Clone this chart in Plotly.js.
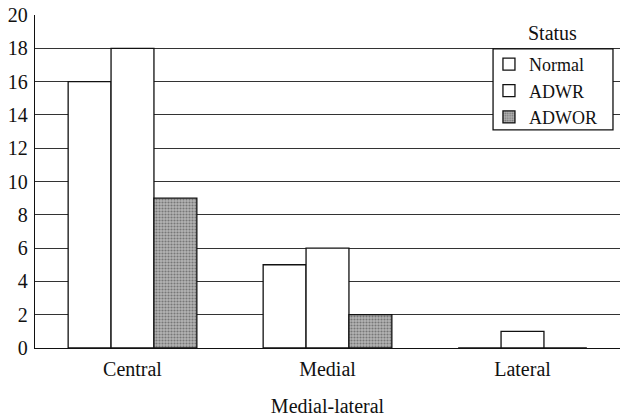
<!DOCTYPE html>
<html>
<head>
<meta charset="utf-8">
<script src="https://cdn.plot.ly/plotly-3.0.1.min.js"></script>
<style>html,body{margin:0;padding:0;background:#fff;}#chart{width:620px;height:419px;}</style>
</head>
<body>
<div id="chart"></div>
<script>
const categories = ["Central", "Medial", "Lateral"];
const normalValues = [16, 5, 0];
const adwrValues = [18, 6, 1];
const adworValues = [9, 2, 0];
const yTicks = [0, 2, 4, 6, 8, 10, 12, 14, 16, 18, 20];

const font = {family: "Liberation Serif", color: "#111", size: 20};
const legendFont = {family: "Liberation Serif", color: "#111", size: 18};
const line = {color: "#111", width: 1.3};

const traces = [
  {type: "bar", name: "Normal", x: categories, y: normalValues,
   marker: {color: "#ffffff", line: line}},
  {type: "bar", name: "ADWR", x: categories, y: adwrValues,
   marker: {color: "#ffffff", line: line}},
  {type: "bar", name: "ADWOR", x: categories, y: adworValues,
   marker: {color: "#a6a6a6", line: line,
            pattern: {shape: ".", fgcolor: "#777", bgcolor: "#b4b4b4", size: 3, solidity: 0.4}}}
];

const layout = {
  width: 620, height: 419,
  margin: {l: 35, r: 0, t: 15, b: 71},
  paper_bgcolor: "#fff", plot_bgcolor: "#fff",
  font: font,
  barmode: "group",
  bargap: 0.34,
  bargroupgap: 0,
  showlegend: true,
  xaxis: {
    type: "category",
    showgrid: false,
    showline: true, linecolor: "#111", linewidth: 1.3,
    ticks: "", tickfont: font, ticklabelstandoff: 3,
    title: {text: "Medial-lateral", font: font, standoff: 19},
    zeroline: false
  },
  yaxis: {
    range: [0, 20],
    tickvals: yTicks, ticktext: yTicks.map(String),
    showgrid: true, gridcolor: "#333", gridwidth: 1,
    showline: true, linecolor: "#111", linewidth: 1.3,
    ticks: "", tickfont: font, ticklabelstandoff: 2,
    zeroline: false
  },
  legend: {
    x: 0.776, y: 0.907, xanchor: "left", yanchor: "top",
    bgcolor: "rgba(0,0,0,0)", borderwidth: 0,
    font: legendFont, tracegroupgap: 0, itemwidth: 30
  },
  shapes: [{
    type: "rect", xref: "paper", yref: "paper",
    x0: 0.783, x1: 0.988, y0: 0.655, y1: 0.898,
    fillcolor: "#fff", line: {color: "#111", width: 1.3}, layer: "above"
  }],
  annotations: [{
    text: "Status", xref: "paper", yref: "paper", x: 0.885, y: 0.946,
    xanchor: "center", yanchor: "middle", showarrow: false, font: font
  }]
};

Plotly.newPlot("chart", traces, layout, {displayModeBar: false, staticPlot: true});
</script>
</body>
</html>
